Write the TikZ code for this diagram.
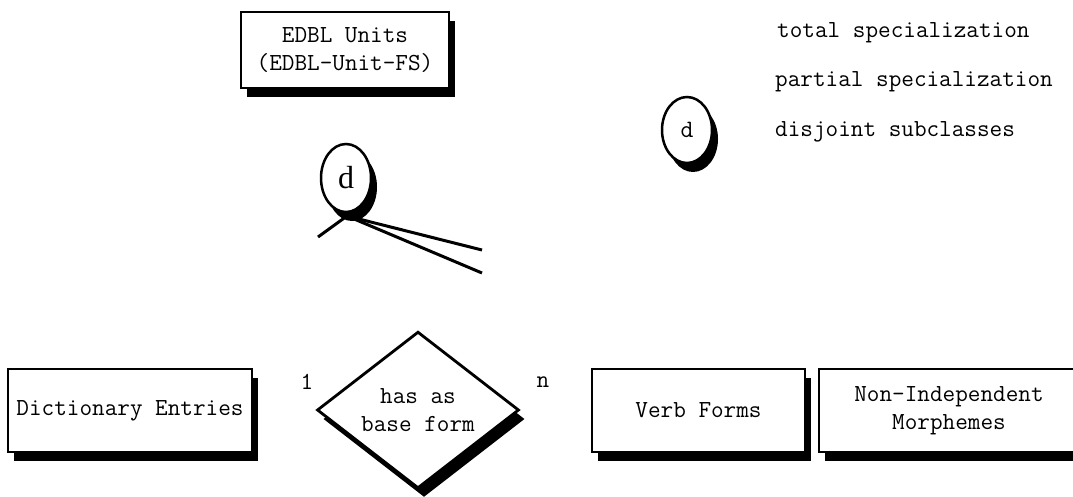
\documentclass[tikz,border=0pt]{standalone}
\usepackage{fontspec}
\newfontfamily\serifd{Liberation Serif}
\usetikzlibrary{shapes.geometric,shadows}

\tikzset{
  txt/.style={font=\ttfamily\fontsize{24.5}{28}\selectfont, align=center, inner sep=0pt},
  hardshadow/.style={drop shadow={shadow xshift=6pt, shadow yshift=-9pt, fill=black, opacity=1}},
  entity/.style={txt, rectangle, draw, line width=2.5pt, fill=white, hardshadow},
  relation/.style={txt, diamond, draw, line width=2.8pt, fill=white, hardshadow},
  spec/.style={ellipse, draw, line width=2.5pt, fill=white, inner sep=0pt, hardshadow},
  link/.style={line width=3pt},
}

\begin{document}
\begin{tikzpicture}[x=1pt,y=-1pt]
  \useasboundingbox (0,0) rectangle (1073,496);

  % top-level entity and its specialization circle
  \node[entity, minimum width=208pt, minimum height=76pt] (edbl) at (345,50)
    {EDBL Units\\(EDBL-Unit-FS)};
  \node[spec, minimum width=50pt, minimum height=68pt, font=\serifd\fontsize{32}{32}\selectfont] (dsub) at (346,178) {d};

  % specialization branches
  \coordinate (j)  at (347,216);
  \coordinate (b1) at (318,237);
  \coordinate (b2) at (482,250);
  \coordinate (b3) at (482,273);
  \draw[link] (j) -- (b1);
  \draw[link] (j) -- (b2);
  \draw[link] (j) -- (b3);

  % legend
  \node[txt, anchor=west] (ltot)  at (777,33)  {total specialization};
  \node[txt, anchor=west] (lpart) at (775,82)  {partial specialization};
  \node[spec, minimum width=50pt, minimum height=66pt, font=\ttfamily\fontsize{25}{25}\selectfont] (ld) at (687,130) {d};
  \node[txt, anchor=west] (ldis)  at (775,132) {disjoint subclasses};

  % lower row
  \node[entity, minimum width=244pt, minimum height=83pt] (dict) at (130,410.5) {Dictionary Entries};
  \node[relation, minimum width=202pt, minimum height=156pt] (rel) at (418,410) {has as\\base form};
  \node[txt] (c1) at (307,382) {1};
  \node[txt] (cn) at (543,382) {n};
  \node[entity, minimum width=213pt, minimum height=83pt] (verb) at (698.5,410.5) {Verb Forms};
  \node[entity, minimum width=260pt, minimum height=83pt] (morph) at (949,410.5) {Non-Independent\\Morphemes};
\end{tikzpicture}
\end{document}
